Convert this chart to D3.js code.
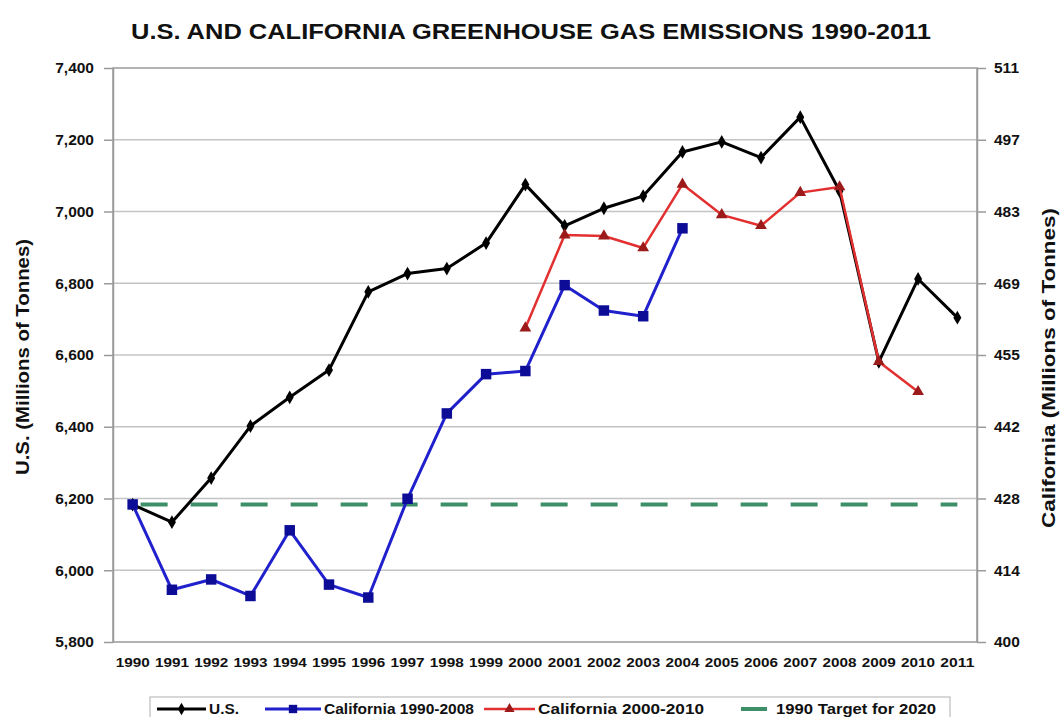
<!DOCTYPE html>
<html>
<head>
<meta charset="utf-8">
<script src="https://cdn.jsdelivr.net/npm/d3@7"></script>
<style>
  html, body { margin: 0; padding: 0; background: #fff; }
  svg { display: block; font-family: "Liberation Sans", Arial, sans-serif; }
</style>
</head>
<body>
<svg id="chart" width="1064" height="717"></svg>
<script>
// ---- data ----
const years = ["1990","1991","1992","1993","1994","1995","1996","1997","1998","1999","2000",
               "2001","2002","2003","2004","2005","2006","2007","2008","2009","2010","2011"];
// U.S. emissions (millions of tonnes, left axis)
const usValues = [6183, 6134, 6257, 6402, 6482, 6558, 6776, 6827, 6841, 6912, 7075,
                  6960, 7009, 7043, 7166, 7194, 7150, 7263, 7057, 6581, 6812, 6704];
// California 1990-2008 series (right axis)
const ca1Years  = ["1990","1991","1992","1993","1994","1995","1996","1997","1998","1999","2000","2001","2002","2003","2004"];
const ca1Values = [426.6, 410.1, 412.1, 408.9, 421.6, 411.1, 408.6, 427.7, 444.2, 451.8, 452.4, 469.0, 464.1, 463.0, 480.0];
// California 2000-2010 series (right axis)
const ca2Years  = ["2000","2001","2002","2003","2004","2005","2006","2007","2008","2009","2010"];
const ca2Values = [460.7, 478.7, 478.5, 476.2, 488.5, 482.6, 480.5, 486.9, 488.0, 454.2, 448.4];
// 1990 target for 2020 (right axis)
const targetValue = 426.6;
// axis ticks
const leftTicks = [5800, 6000, 6200, 6400, 6600, 6800, 7000, 7200, 7400];
const rightTickLabels = ["400","414","428","442","455","469","483","497","511"];
const rightDomain = [400, 511];
const legendLabels = ["U.S.", "California 1990-2008", "California 2000-2010", "1990 Target for 2020"];
const title = "U.S. AND CALIFORNIA GREENHOUSE GAS EMISSIONS 1990-2011";

// ---- layout ----
const svg = d3.select("#chart");
const L = 113, R = 977, T = 68, B = 642;

const x = d3.scaleBand().domain(years).range([L, R]);
const cx = d => x(d) + x.bandwidth() / 2;
const yL = d3.scaleLinear().domain([leftTicks[0], leftTicks[leftTicks.length - 1]]).range([B, T]);
const yR = d3.scaleLinear().domain(rightDomain).range([B, T]);
const rightTicks = rightTickLabels.map((_, i) => rightDomain[0] + i * (rightDomain[1] - rightDomain[0]) / (rightTickLabels.length - 1));

const COL = {
  us: "#000000",
  blueLine: "#2020cc", blueMark: "#0c0c96",
  redLine: "#e23030", redMark: "#9c1a1a",
  green: "#3d8f68",
  grid: "#c4c4c4", frame: "#9a9a9a"
};
const FONT = "'Liberation Sans', Arial, sans-serif";

// title
svg.append("text")
  .attr("x", 531).attr("y", 39)
  .attr("text-anchor", "middle")
  .attr("font-size", 22).attr("font-weight", "bold")
  .attr("textLength", 800).attr("lengthAdjust", "spacingAndGlyphs")
  .attr("fill", "#111")
  .text(title);

// gridlines
svg.append("g").selectAll("line")
  .data(leftTicks.slice(1, -1))
  .join("line")
  .attr("x1", L).attr("x2", R)
  .attr("y1", d => yL(d)).attr("y2", d => yL(d))
  .attr("stroke", COL.grid).attr("stroke-width", 1.5);

// frame
svg.append("rect")
  .attr("x", L).attr("y", T).attr("width", R - L).attr("height", B - T)
  .attr("fill", "none").attr("stroke", COL.frame).attr("stroke-width", 1.5);

// left axis
const gL = svg.append("g").attr("transform", `translate(${L},0)`)
  .call(d3.axisLeft(yL).tickValues(leftTicks).tickFormat(d3.format(",")).tickSize(9).tickSizeOuter(0).tickPadding(10));
gL.select(".domain").attr("stroke", COL.frame).attr("stroke-width", 1.5);
gL.selectAll(".tick line").attr("stroke", COL.frame).attr("stroke-width", 1.5);
gL.selectAll(".tick text").attr("font-size", 15.5).attr("font-weight", "bold").attr("fill", "#111")
  .attr("font-family", FONT);

// right axis
const gR = svg.append("g").attr("transform", `translate(${R},0)`)
  .call(d3.axisRight(yR).tickValues(rightTicks).tickFormat((d, i) => rightTickLabels[i]).tickSize(9).tickSizeOuter(0).tickPadding(8));
gR.select(".domain").attr("stroke", COL.frame).attr("stroke-width", 1.5);
gR.selectAll(".tick line").attr("stroke", COL.frame).attr("stroke-width", 1.5);
gR.selectAll(".tick text").attr("font-size", 15.5).attr("font-weight", "bold").attr("fill", "#111")
  .attr("font-family", FONT);

// x axis labels
const gX = svg.append("g").attr("transform", `translate(0,${B})`)
  .call(d3.axisBottom(x).tickSize(0).tickPadding(16));
gX.select(".domain").remove();
gX.selectAll(".tick text").attr("font-size", 13).attr("font-weight", "bold").attr("fill", "#111")
  .attr("font-family", FONT)
  .attr("textLength", 34).attr("lengthAdjust", "spacingAndGlyphs");

// axis titles
svg.append("text")
  .attr("transform", `translate(29,357) rotate(-90)`)
  .attr("text-anchor", "middle").attr("font-size", 18).attr("font-weight", "bold").attr("fill", "#111")
  .attr("textLength", 236).attr("lengthAdjust", "spacingAndGlyphs")
  .text("U.S. (Millions of Tonnes)");
svg.append("text")
  .attr("transform", `translate(1055,368) rotate(-90)`)
  .attr("text-anchor", "middle").attr("font-size", 18).attr("font-weight", "bold").attr("fill", "#111")
  .attr("textLength", 320).attr("lengthAdjust", "spacingAndGlyphs")
  .text("California (Millions of Tonnes)");

// target dashed line
svg.append("line")
  .attr("x1", cx(years[0])).attr("x2", cx(years[years.length - 1]))
  .attr("y1", yR(targetValue)).attr("y2", yR(targetValue))
  .attr("stroke", COL.green).attr("stroke-width", 4)
  .attr("stroke-dasharray", "27,23").attr("stroke-dashoffset", -8);

// U.S. line
const usData = years.map((y, i) => ({ y, v: usValues[i] }));
svg.append("path")
  .datum(usData)
  .attr("fill", "none").attr("stroke", COL.us).attr("stroke-width", 3)
  .attr("stroke-linejoin", "round")
  .attr("d", d3.line().x(d => cx(d.y)).y(d => yL(d.v)));
svg.append("g").selectAll("path")
  .data(usData).join("path")
  .attr("transform", d => `translate(${cx(d.y)},${yL(d.v)})`)
  .attr("d", d3.symbol(d3.symbolDiamond, 55))
  .attr("fill", COL.us);

// California 1990-2008
const ca1 = ca1Years.map((y, i) => ({ y, v: ca1Values[i] }));
svg.append("path")
  .datum(ca1)
  .attr("fill", "none").attr("stroke", COL.blueLine).attr("stroke-width", 3)
  .attr("stroke-linejoin", "round")
  .attr("d", d3.line().x(d => cx(d.y)).y(d => yR(d.v)));
svg.append("g").selectAll("path")
  .data(ca1).join("path")
  .attr("transform", d => `translate(${cx(d.y)},${yR(d.v)})`)
  .attr("d", d3.symbol(d3.symbolSquare, 110))
  .attr("fill", COL.blueMark);

// California 2000-2010
const ca2 = ca2Years.map((y, i) => ({ y, v: ca2Values[i] }));
svg.append("path")
  .datum(ca2)
  .attr("fill", "none").attr("stroke", COL.redLine).attr("stroke-width", 2.5)
  .attr("stroke-linejoin", "round")
  .attr("d", d3.line().x(d => cx(d.y)).y(d => yR(d.v)));
svg.append("g").selectAll("path")
  .data(ca2).join("path")
  .attr("transform", d => `translate(${cx(d.y)},${yR(d.v)})`)
  .attr("d", d3.symbol(d3.symbolTriangle, 60))
  .attr("fill", COL.redMark);

// legend
const lg = svg.append("g");
lg.append("rect")
  .attr("x", 150).attr("y", 697).attr("width", 800).attr("height", 40)
  .attr("fill", "#fff").attr("stroke", "#bdbdbd").attr("stroke-width", 1.2);
const ly = 709;
const items = [
  { x1: 157, x2: 206, color: COL.us, w: 3, sym: d3.symbolDiamond, ss: 45, mc: COL.us, tx: 209, tl: 30 },
  { x1: 265, x2: 321, color: COL.blueLine, w: 3, sym: d3.symbolSquare, ss: 70, mc: COL.blueMark, tx: 324, tl: 150 },
  { x1: 484, x2: 535, color: COL.redLine, w: 2.5, sym: d3.symbolTriangle, ss: 45, mc: COL.redMark, tx: 538, tl: 166 },
  { x1: 741, x2: 767, color: COL.green, w: 4, sym: null, tx: 776, tl: 160 }
];
items.forEach((it, i) => {
  lg.append("line").attr("x1", it.x1).attr("x2", it.x2).attr("y1", ly).attr("y2", ly)
    .attr("stroke", it.color).attr("stroke-width", it.w);
  if (it.sym) {
    lg.append("path").attr("transform", `translate(${(it.x1 + it.x2) / 2},${ly})`)
      .attr("d", d3.symbol(it.sym, it.ss)).attr("fill", it.mc);
  }
  lg.append("text").attr("x", it.tx).attr("y", ly + 5)
    .attr("font-size", 14).attr("font-weight", "bold").attr("fill", "#111")
    .attr("textLength", it.tl).attr("lengthAdjust", "spacingAndGlyphs")
    .text(legendLabels[i]);
});
</script>
</body>
</html>
